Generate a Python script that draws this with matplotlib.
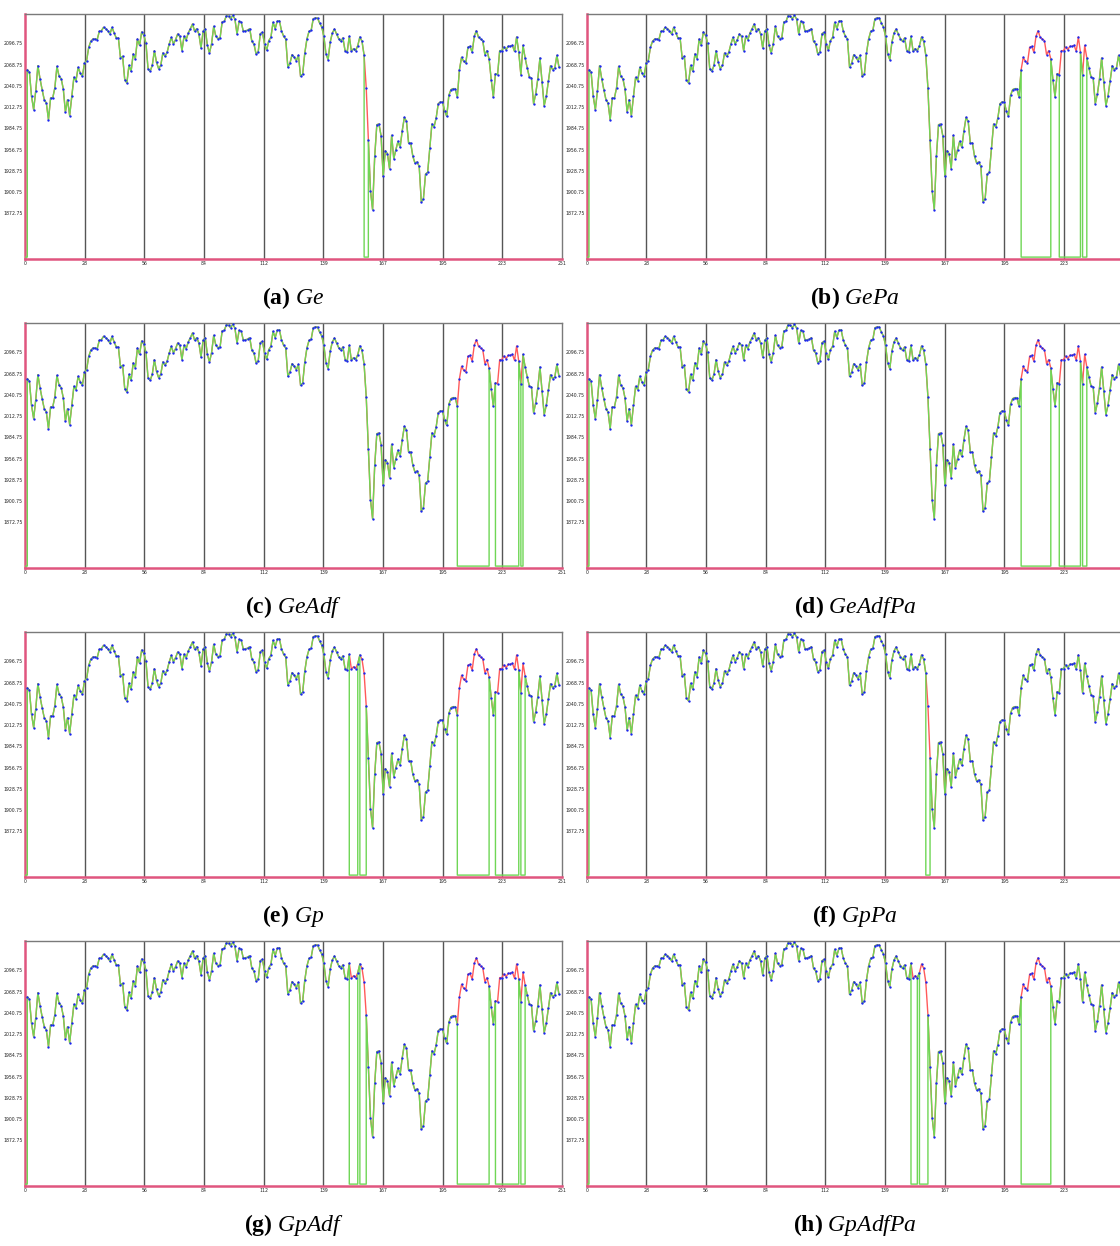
import numpy as np
import matplotlib.pyplot as plt

plt.rcParams['mathtext.fontset'] = 'custom'
plt.rcParams['mathtext.bf'] = 'Liberation Serif:bold'
plt.rcParams['mathtext.it'] = 'Liberation Serif:italic'
plt.rcParams['mathtext.rm'] = 'Liberation Serif'

# daily closing prices
close = [
    2062.0, 2058.5, 2026.9, 2009.3, 2034.4, 2067.3, 2050.2, 2035.7, 2022.5, 2018.1,
    1996.1, 2024.7, 2024.7, 2037.9, 2066.4, 2053.2, 2050.2, 2036.6, 2006.2, 2022.5,
    2001.4, 2026.9, 2051.9, 2047.5, 2065.1, 2057.6, 2053.2, 2070.8, 2073.9, 2091.5,
    2099.4, 2102.4, 2102.4, 2101.6, 2112.5, 2113.4, 2117.8, 2116.1, 2113.4, 2109.0,
    2117.8, 2110.4, 2103.8, 2103.8, 2077.4, 2079.6, 2048.9, 2044.5, 2067.7, 2059.8,
    2082.7, 2076.5, 2102.4, 2094.1, 2111.7, 2107.3, 2097.2, 2063.3, 2059.8, 2067.7,
    2087.1, 2071.7, 2063.3, 2067.7, 2084.0, 2079.6, 2084.9, 2095.9, 2104.6, 2095.9,
    2101.6, 2109.0, 2106.0, 2087.1, 2106.0, 2101.6, 2110.4, 2116.1, 2122.2, 2112.5,
    2116.1, 2109.0, 2090.6, 2112.5, 2116.1, 2094.1, 2084.0, 2096.3, 2119.1, 2106.0,
    2102.9, 2103.8, 2124.9, 2125.7, 2133.2, 2132.3, 2129.2, 2133.6, 2128.8, 2109.0,
    2125.7, 2124.4, 2112.5, 2113.4, 2113.9, 2116.1, 2099.4, 2095.9, 2082.7, 2085.3,
    2109.5, 2111.2, 2095.9, 2087.5, 2100.3, 2104.6, 2124.4, 2116.1, 2125.7, 2126.6,
    2113.4, 2106.0, 2102.4, 2065.1, 2070.8, 2081.8, 2078.3, 2073.9, 2080.9, 2053.2,
    2056.3, 2084.0, 2102.4, 2112.5, 2113.9, 2129.2, 2130.1, 2130.1, 2123.5, 2118.3,
    2106.0, 2082.7, 2075.2, 2098.5, 2110.4, 2115.6, 2109.0, 2102.9, 2099.4, 2103.8,
    2087.1, 2084.9, 2106.0, 2086.2, 2089.7, 2087.1, 2093.7, 2105.1, 2099.4, 2080.9,
    2037.9, 1969.8, 1902.6, 1877.5, 1947.8, 1989.5, 1990.4, 1975.1, 1921.5, 1955.3,
    1951.3, 1931.6, 1975.5, 1944.7, 1956.6, 1967.6, 1959.7, 1981.6, 1999.2, 1993.9,
    1965.4, 1965.4, 1947.8, 1939.0, 1940.3, 1934.6, 1887.6, 1892.0, 1924.5, 1926.7,
    1958.8, 1990.4, 1986.5, 1998.3, 2017.2, 2019.4, 2019.4, 2008.0, 2000.5, 2028.2,
    2035.7, 2037.0, 2037.0, 2025.6, 2062.0, 2078.3, 2073.0, 2070.8, 2091.5, 2092.8,
    2084.9, 2106.0, 2113.4, 2104.6, 2102.4, 2100.3, 2081.8, 2087.1, 2076.1, 2048.9,
    2026.0, 2056.8, 2055.4, 2087.1, 2087.1, 2091.9, 2088.4, 2092.8, 2092.8, 2094.1,
    2086.2, 2105.1, 2084.9, 2055.4, 2094.1, 2077.4, 2064.2, 2052.4, 2051.0, 2017.2,
    2030.0, 2050.2, 2077.4, 2045.8, 2014.6, 2026.9, 2046.7, 2067.3, 2062.0, 2064.2,
    2080.9, 2065.1,
]

# strategy names and the stretches (first day, last day; days counted from 1)
# where each strategy is out of the market
letters = ['a', 'b', 'c', 'd', 'e', 'f', 'g', 'h']
names = ['Ge', 'GePa', 'GeAdf', 'GeAdfPa', 'Gp', 'GpPa', 'GpAdf', 'GpAdfPa']
out_days = [
    [(160, 162)],
    [(205, 219), (223, 233), (234, 236)],
    [(204, 219), (222, 233), (234, 235)],
    [(205, 219), (223, 233), (234, 236)],
    [(153, 157), (158, 161), (204, 219), (222, 233), (234, 236)],
    [(160, 162)],
    [(153, 157), (158, 161), (204, 219), (222, 233), (234, 236)],
    [(153, 156), (157, 161), (205, 219)],
]

y_ticks = [1872.75 + 28 * k for k in range(9)]
x_ticks = np.linspace(0, 251, 10)

GREEN = '#6fd655'
RED = '#ff5a5a'
BLUE = '#1a26f0'
PINK = '#e0557f'

y_lo, y_hi = 1812.5, 2135.4
floor = 1815.0


def green_path(x, p, stretches):
    # price line with the out-of-market stretches dropped to the floor
    gx, gy = [0.0, x[0]], [floor, floor]
    k = 0
    n = len(p)
    starts = {a - 1: b - 1 for a, b in stretches}
    while k < n:
        gx.append(x[k]); gy.append(p[k])
        if k in starts:
            b = starts[k]
            gx += [x[k], x[b]]
            gy += [floor, floor]
            gx.append(x[b]); gy.append(p[b])
            k = b + 1
            continue
        k += 1
    return gx, gy


fig = plt.figure(figsize=(11.2, 12.46), dpi=100)
W, H = 1120, 1246

x = np.linspace(1.07, 249.6, len(close))

for n in range(8):
    col, row = n % 2, n // 2
    left = 25 if col == 0 else 586.7
    top = 14 + 309 * row
    ax = fig.add_axes([left / W, 1 - (top + 245) / H, 537 / W, 245 / H])

    ax.vlines(x_ticks[1:-1], y_lo, y_hi, color='#555555', lw=1.0, zorder=1)
    ax.plot(x, close, color=RED, lw=1.0, zorder=2)
    gx, gy = green_path(x, close, out_days[n])
    ax.plot(gx, gy, color=GREEN, lw=1.0, zorder=3)
    ax.plot(x, close, 'o', ms=1.7, mew=0, color=BLUE, zorder=4)

    ax.set_xlim(0, 251)
    ax.set_ylim(y_lo, y_hi)
    xlabels = [str(int(round(t))) for t in x_ticks]
    if col == 1:
        # the right column runs off the page edge
        xlabels[-1] = ''
    ax.set_xticks(x_ticks)
    ax.set_xticklabels(xlabels)
    ax.set_yticks(y_ticks)
    ax.set_yticklabels(['%.2f' % t for t in y_ticks])
    ax.tick_params(length=0, labelsize=3.3, labelcolor='#222222', pad=1.5)

    for s in ['top', 'right']:
        ax.spines[s].set_color('#7a7a7a')
        ax.spines[s].set_linewidth(1.0)
    for s in ['left', 'bottom']:
        ax.spines[s].set_color(PINK)
        ax.spines[s].set_linewidth(1.8)

    cx = (left + 268.5) / W
    cy = 1 - (top + 284) / H
    fig.text(cx, cy, r'$\mathbf{(%s)}$ $\mathit{%s}$' % (letters[n], names[n]),
             ha='center', va='center', fontsize=17, family='Liberation Serif')

fig.savefig('out.png', dpi=100)
